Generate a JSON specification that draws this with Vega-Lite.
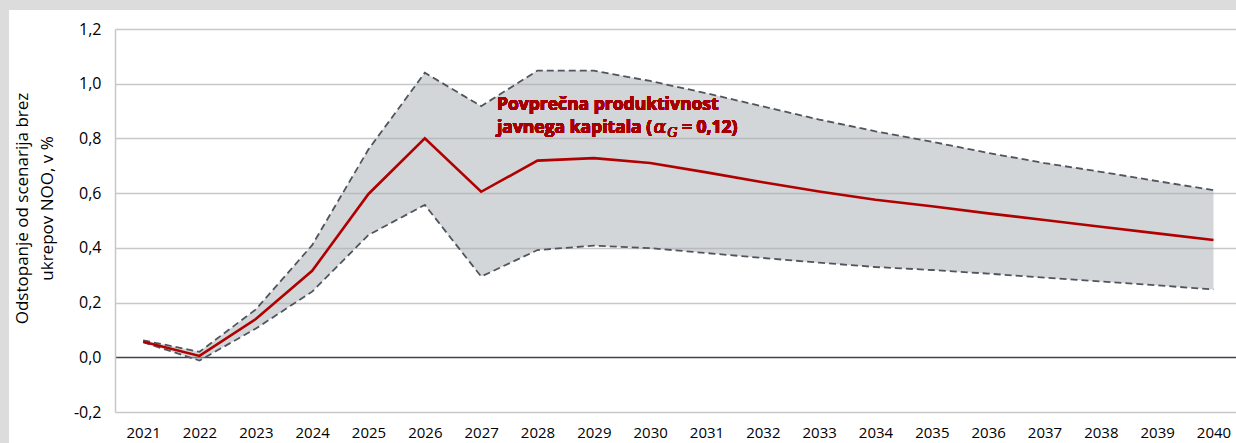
{
  "$schema": "https://vega.github.io/schema/vega-lite/v6.json",
  "autosize": "none",
  "width": 1121,
  "height": 383,
  "padding": {"left": 115, "top": 29, "right": 0, "bottom": 31},
  "background": "white",
  "config": {
    "view": {"stroke": null},
    "locale": {"number": {"decimal": ",", "thousands": ".", "grouping": [3], "currency": ["", " €"], "minus": "-"}},
    "font": "Open Sans"
  },
  "data": {"values": [
    {"year": 2021, "mid": 0.057, "up": 0.062, "lo": 0.055},
    {"year": 2022, "mid": 0.005, "up": 0.02, "lo": -0.012},
    {"year": 2023, "mid": 0.14, "up": 0.175, "lo": 0.105},
    {"year": 2024, "mid": 0.316, "up": 0.41, "lo": 0.24},
    {"year": 2025, "mid": 0.597, "up": 0.76, "lo": 0.447},
    {"year": 2026, "mid": 0.8, "up": 1.04, "lo": 0.557},
    {"year": 2027, "mid": 0.605, "up": 0.918, "lo": 0.295},
    {"year": 2028, "mid": 0.719, "up": 1.048, "lo": 0.392},
    {"year": 2029, "mid": 0.728, "up": 1.048, "lo": 0.408},
    {"year": 2030, "mid": 0.71, "up": 1.01, "lo": 0.399},
    {"year": 2031, "mid": 0.676, "up": 0.965, "lo": 0.381},
    {"year": 2032, "mid": 0.64, "up": 0.917, "lo": 0.363},
    {"year": 2033, "mid": 0.606, "up": 0.869, "lo": 0.346},
    {"year": 2034, "mid": 0.576, "up": 0.826, "lo": 0.33},
    {"year": 2035, "mid": 0.552, "up": 0.788, "lo": 0.319},
    {"year": 2036, "mid": 0.526, "up": 0.747, "lo": 0.306},
    {"year": 2037, "mid": 0.502, "up": 0.71, "lo": 0.291},
    {"year": 2038, "mid": 0.477, "up": 0.678, "lo": 0.277},
    {"year": 2039, "mid": 0.453, "up": 0.644, "lo": 0.263},
    {"year": 2040, "mid": 0.429, "up": 0.611, "lo": 0.248}
  ]},
  "layer": [
    {
      "mark": {"type": "rect", "fill": "#dcdcdc", "clip": false},
      "encoding": {
        "x": {"datum": 2018.3, "type": "quantitative", "scale": {"domain": [2020.5, 2040.4], "nice": false, "zero": false}},
        "x2": {"datum": 2018.618},
        "y": {"datum": 1.31, "type": "quantitative", "scale": {"domain": [-0.2, 1.2], "nice": false, "zero": false}},
        "y2": {"datum": -0.32}
      }
    },
    {
      "mark": {"type": "rect", "fill": "#dcdcdc", "clip": false},
      "encoding": {
        "x": {"datum": 2018.3, "type": "quantitative"},
        "x2": {"datum": 2040.4},
        "y": {"datum": 1.31, "type": "quantitative"},
        "y2": {"datum": 1.2694}
      }
    },
    {
      "mark": {"type": "area", "color": "#a7adb3", "opacity": 0.5},
      "encoding": {
        "x": {"field": "year", "type": "quantitative",
          "scale": {"domain": [2020.5, 2040.4], "nice": false, "zero": false},
          "axis": {"values": [2021,2022,2023,2024,2025,2026,2027,2028,2029,2030,2031,2032,2033,2034,2035,2036,2037,2038,2039,2040],
            "format": "d", "grid": false, "ticks": false, "domain": false, "labelFlush": false,
            "labelPadding": 13, "labelFontSize": 15, "labelColor": "#000000", "labelFont": "Open Sans", "title": null}},
        "y": {"field": "lo", "type": "quantitative",
          "scale": {"domain": [-0.2, 1.2], "nice": false, "zero": false},
          "axis": {"values": [-0.2, 0, 0.2, 0.4, 0.6, 0.8, 1.0, 1.2], "format": ".1f",
            "ticks": false, "labelPadding": 14, "labelFontSize": 16, "labelColor": "#000000", "labelFont": "Open Sans",
            "domain": true, "domainColor": "#c8c8c8", "domainWidth": 1.5,
            "grid": true,
            "gridColor": {"condition": {"test": "datum.value === 0", "value": "#3c4350"}, "value": "#c8c8c8"},
            "gridWidth": {"condition": {"test": "datum.value === 0", "value": 1.6}, "value": 1.3},
            "title": ["Odstopanje od scenarija brez", "ukrepov NOO, v %"],
            "titleFont": "Open Sans", "titleFontSize": 17, "titleFontWeight": "normal", "titleColor": "#000000",
            "titleLineHeight": 25, "titleX": -84, "titleY": 179, "titleAngle": -90, "titleAlign": "center", "titleBaseline": "bottom"}},
        "y2": {"field": "up"}
      }
    },
    {
      "mark": {"type": "line", "color": "#50555d", "strokeWidth": 1.8, "strokeDash": [7, 4]},
      "encoding": {
        "x": {"field": "year", "type": "quantitative"},
        "y": {"field": "up", "type": "quantitative"}
      }
    },
    {
      "mark": {"type": "line", "color": "#50555d", "strokeWidth": 1.8, "strokeDash": [7, 4]},
      "encoding": {
        "x": {"field": "year", "type": "quantitative"},
        "y": {"field": "lo", "type": "quantitative"}
      }
    },
    {
      "mark": {"type": "line", "color": "#b00000", "strokeWidth": 2.6},
      "encoding": {
        "x": {"field": "year", "type": "quantitative"},
        "y": {"field": "mid", "type": "quantitative"}
      }
    },
    {
      "mark": {"type": "text", "align": "left", "baseline": "alphabetic", "font": "Open Sans", "fontSize": 17.5, "fontWeight": "bold", "color": "#a80000", "clip": false},
      "encoding": {
        "x": {"datum": 2027.281, "type": "quantitative"},
        "y": {"datum": 0.9039, "type": "quantitative"},
        "text": {"value": "Povprečna produktivnost"}
      }
    },
    {
      "mark": {"type": "text", "align": "left", "baseline": "alphabetic", "font": "Open Sans", "fontSize": 17.5, "fontWeight": "bold", "color": "#a80000", "clip": false},
      "encoding": {
        "x": {"datum": 2027.281, "type": "quantitative"},
        "y": {"datum": 0.8209, "type": "quantitative"},
        "text": {"value": "javnega kapitala ("}
      }
    },
    {
      "mark": {"type": "text", "align": "left", "baseline": "alphabetic", "font": "DejaVu Serif", "fontSize": 19, "fontStyle": "italic", "fontWeight": "normal", "color": "#a80000", "clip": false},
      "encoding": {
        "x": {"datum": 2030.06, "type": "quantitative"},
        "y": {"datum": 0.8209, "type": "quantitative"},
        "text": {"value": "α"}
      }
    },
    {
      "mark": {"type": "text", "align": "left", "baseline": "alphabetic", "font": "DejaVu Serif", "fontSize": 12.5, "fontStyle": "italic", "fontWeight": "normal", "color": "#a80000", "clip": false},
      "encoding": {
        "x": {"datum": 2030.31, "type": "quantitative"},
        "y": {"datum": 0.8063, "type": "quantitative"},
        "text": {"value": "G"}
      }
    },
    {
      "mark": {"type": "text", "align": "left", "baseline": "alphabetic", "font": "Open Sans", "fontSize": 17.5, "fontWeight": "bold", "color": "#a80000", "clip": false},
      "encoding": {
        "x": {"datum": 2030.565, "type": "quantitative"},
        "y": {"datum": 0.8209, "type": "quantitative"},
        "text": {"value": "= 0,12)"}
      }
    }
  ]
}
